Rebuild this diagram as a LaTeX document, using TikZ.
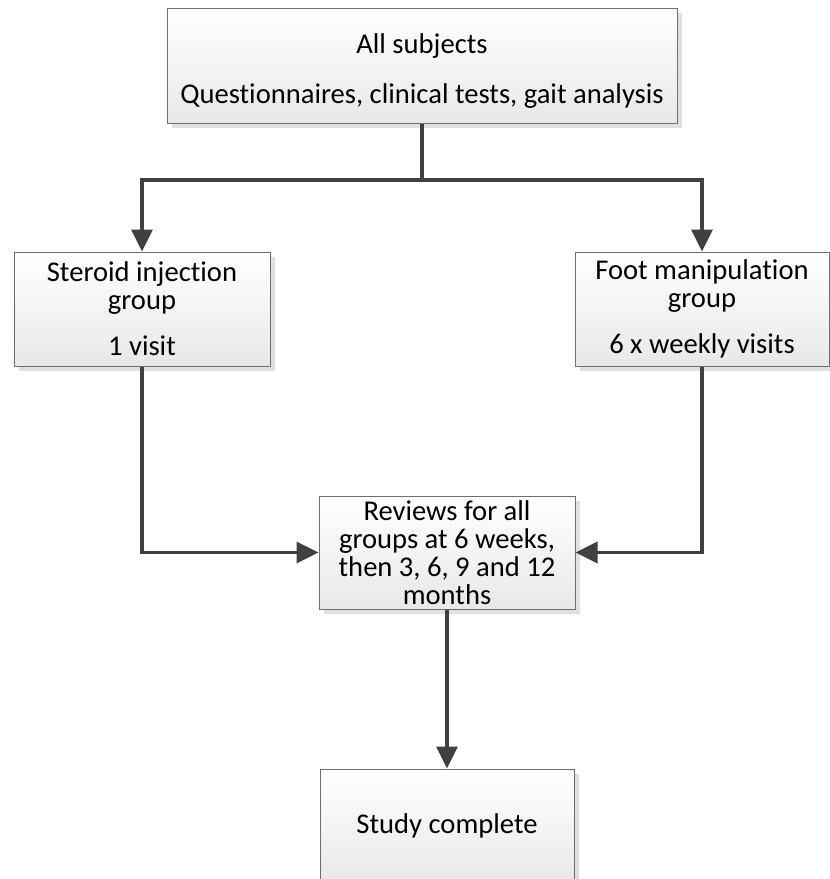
\documentclass[tikz,border=0pt]{standalone}
\usepackage{fontspec}
\setmainfont{Carlito}[Ligatures=NoCommon]
\usetikzlibrary{arrows.meta,shadows}
\definecolor{linegray}{HTML}{404040}
\definecolor{edgegray}{HTML}{6E6E6E}
\definecolor{shadowgray}{HTML}{E0E0E0}
\tikzset{
  flowbox/.style={
    draw=edgegray, line width=1pt, rectangle, inner sep=0pt,
    top color=white, bottom color=black!9,
    drop shadow={shadow xshift=5pt, shadow yshift=-5pt, fill=shadowgray, opacity=1},
    align=center, font=\fontsize{28.6}{28}\selectfont
  },
  link/.style={draw=linegray, line width=3.5pt},
  flowarrow/.style={link, -{Triangle[length=22pt,width=21pt]}, shorten >=0pt}
}
\begin{document}
\begin{tikzpicture}[x=1pt,y=-1pt]
\useasboundingbox (0,0) rectangle (830,879);

% boxes
\node[flowbox, minimum width=510pt, minimum height=115pt] (top) at (422,65.5)
  {\rule{0pt}{30pt}All subjects\\[22pt]Questionnaires, clinical tests, gait analysis};
\node[flowbox, minimum width=256pt, minimum height=114pt] (left) at (142,309)
  {Steroid injection\\group\\[18pt]1 visit};
\node[flowbox, minimum width=254pt, minimum height=114pt] (right) at (702,309)
  {Foot manipulation\\group\\[18pt]6 x weekly visits};
\node[flowbox, minimum width=256pt, minimum height=113pt] (review) at (447,552.5)
  {Reviews for all\\groups at 6 weeks,\\then 3, 6, 9 and 12\\months};
\node[flowbox, minimum width=254pt, minimum height=114pt] (study) at (447,826)
  {Study complete};

% connectors
\coordinate (split) at (422,180);
\draw[link] (top.south) -- (split);
\draw[flowarrow] (split) -| (left.north);
\draw[flowarrow] (split) -| (right.north);
\draw[flowarrow] (left.south) |- (review.west);
\draw[flowarrow] (right.south) |- (review.east);
\draw[flowarrow] (review.south) -- (study.north);
\end{tikzpicture}
\end{document}
